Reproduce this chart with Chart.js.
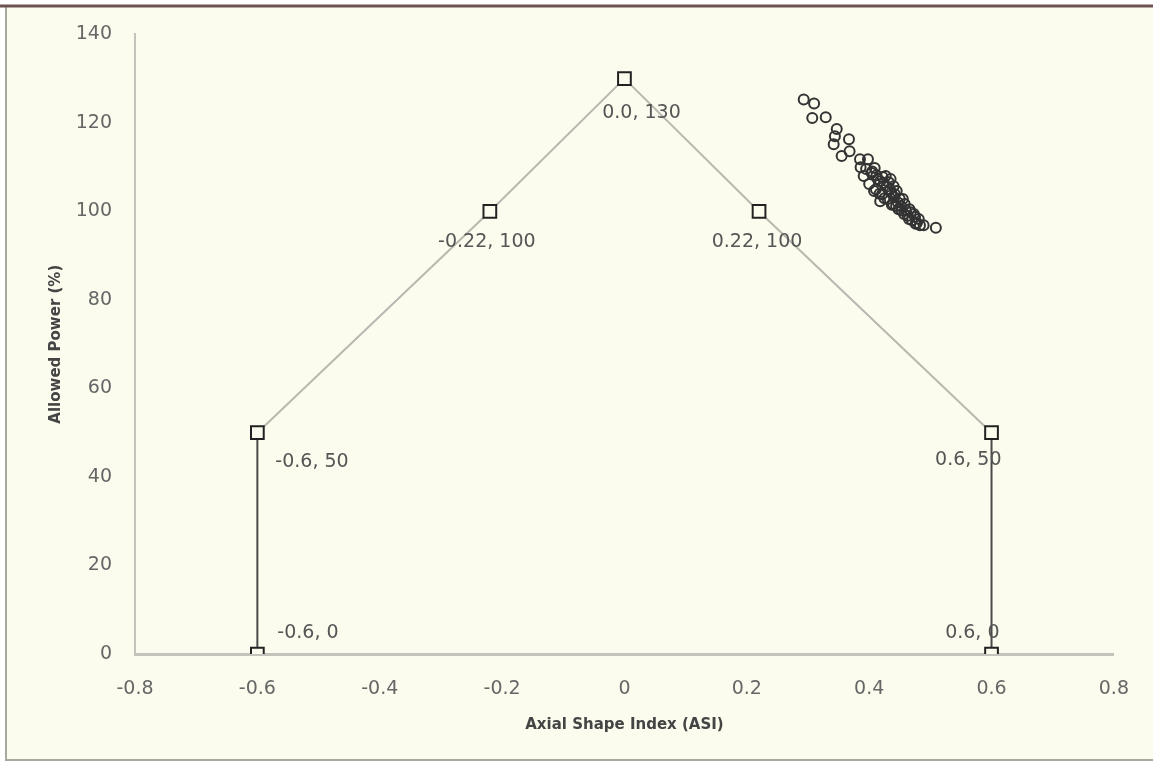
<!DOCTYPE html>
<html>
<head>
<meta charset="utf-8">
<script src="https://cdn.jsdelivr.net/npm/chart.js@4.4.1/dist/chart.umd.min.js"></script>
<style>
	html, body {margin: 0; padding: 0; background: #fff;}
	#wrap {width: 1153px; height: 766px;}
</style>
</head>
<body>
<div id="wrap"><canvas id="chart"></canvas></div>
<script>
'use strict';

//limit envelope (ASI, allowed power)
const limitAsi = [-0.6, -0.6, -0.22, 0.0, 0.22, 0.6, 0.6];
const limitPower = [0, 50, 100, 130, 100, 50, 0];
const limitLabels = ['-0.6, 0', '-0.6, 50', '-0.22, 100', '0.0, 130', '0.22, 100', '0.6, 50', '0.6, 0'];

//measured operating points
const measAsi = [
	0.293, 0.310, 0.307, 0.329, 0.347, 0.344, 0.342, 0.367, 0.355, 0.368,
	0.385, 0.398, 0.386, 0.409, 0.391, 0.404, 0.414, 0.400, 0.424, 0.411,
	0.434, 0.421, 0.442, 0.430, 0.450, 0.439, 0.458, 0.448, 0.466, 0.457,
	0.473, 0.465, 0.481, 0.476, 0.489, 0.509, 0.427, 0.440, 0.408, 0.395,
	0.435, 0.418, 0.405, 0.412, 0.418, 0.422, 0.428, 0.432, 0.436, 0.441,
	0.445, 0.447, 0.452, 0.455, 0.460, 0.463, 0.468, 0.470, 0.475, 0.478,
	0.483, 0.417, 0.425, 0.437, 0.444, 0.453
];
const measPower = [
	125.3, 124.4, 121.1, 121.3, 118.6, 117.0, 115.2, 116.3, 112.5, 113.6,
	111.8, 111.8, 110.0, 109.8, 108.0, 108.7, 107.3, 106.2, 106.4, 105.0,
	105.0, 103.9, 103.9, 102.8, 102.8, 101.7, 101.7, 100.5, 100.5, 99.4,
	99.4, 98.3, 98.3, 97.2, 96.9, 96.3, 108.0, 105.7, 104.6, 109.6,
	107.3, 102.3, 109.0, 108.2, 106.8, 107.8, 105.6, 106.6, 104.2, 103.2,
	104.6, 102.0, 101.2, 102.8, 100.2, 99.0, 99.8, 98.0, 98.8, 97.4,
	96.9, 104.0, 103.0, 101.5, 101.2, 100.2
];

//label placement around each envelope point: [dx, dy, align]
const labelPlace = [
	[20, -21, 'left'], [18, 29, 'left'], [-3, 31, 'center'], [17, 34, 'center'],
	[-2, 31, 'center'], [10, 27, 'right'], [8, -21, 'right']
];

const BG = '#fbfcee';

const plugins = [
	{
		id: 'frame',
		beforeDraw: chart => {
			const {ctx, width, height} = chart;
			ctx.save();
			ctx.fillStyle = '#ffffff';
			ctx.fillRect(0, 0, width, height);
			ctx.fillStyle = BG;
			ctx.fillRect(6, 6, width - 6, height - 12);
			ctx.strokeStyle = '#a8a8a0';
			ctx.lineWidth = 2;
			ctx.beginPath();
			ctx.moveTo(6, 6);
			ctx.lineTo(6, height - 6);
			ctx.lineTo(width, height - 6);
			ctx.stroke();
			ctx.strokeStyle = '#6e5252';
			ctx.lineWidth = 3;
			ctx.beginPath();
			ctx.moveTo(0, 6);
			ctx.lineTo(width, 6);
			ctx.stroke();
			ctx.restore();
		}
	},
	{
		id: 'pointLabels',
		afterDatasetsDraw: chart => {
			const {ctx, scales} = chart;
			ctx.save();
			ctx.font = '19px "DejaVu Sans"';
			ctx.fillStyle = '#555555';
			ctx.textBaseline = 'middle';
			for (let idx = 0; idx < limitLabels.length; ++idx) {
				const [dx, dy, align] = labelPlace[idx];
				ctx.textAlign = align;
				ctx.fillText(limitLabels[idx],
					scales.x.getPixelForValue(limitAsi[idx]) + dx,
					scales.y.getPixelForValue(limitPower[idx]) + dy);
			}
			ctx.restore();
		}
	}
];

const tickFont = {family: 'DejaVu Sans', size: 19};
const titleFont = {family: 'DejaVu Sans', size: 15, weight: 'bold'};

new Chart(document.getElementById('chart'), {
	type: 'scatter',
	data: {
		datasets: [
			{
				label: 'Limit',
				data: limitAsi.map((x, idx) => ({x: x, y: limitPower[idx]})),
				showLine: true,
				borderWidth: 2,
				borderColor: '#b8b8b0',
				segment: {
					borderColor: ctx => (ctx.p0.parsed.x === ctx.p1.parsed.x) ? '#4a4a4a' : '#b8b8b0'
				},
				pointStyle: 'rect',
				pointRadius: 9,
				pointBorderWidth: 2,
				pointBorderColor: '#222222',
				pointBackgroundColor: BG,
				order: 1
			},
			{
				label: 'Measured',
				data: measAsi.map((x, idx) => ({x: x, y: measPower[idx]})),
				showLine: false,
				pointStyle: 'circle',
				pointRadius: 5,
				pointBorderWidth: 2,
				pointBorderColor: '#333333',
				pointBackgroundColor: 'rgba(0,0,0,0)',
				order: 0
			}
		]
	},
	options: {
		responsive: true,
		maintainAspectRatio: false,
		animation: false,
		layout: {
			padding: {left: 0, top: 33, right: 36, bottom: 0}
		},
		plugins: {
			legend: {display: false},
			tooltip: {enabled: false}
		},
		scales: {
			x: {
				type: 'linear',
				min: -0.8,
				max: 0.8,
				afterFit: scale => { scale.height = 112; },
				ticks: {stepSize: 0.2, font: tickFont, color: '#666666', padding: 24},
				grid: {display: false, drawTicks: false},
				border: {display: true, color: '#c4c4bc', width: 3},
				title: {
					display: true,
					text: 'Axial Shape Index (ASI)',
					font: titleFont,
					color: '#444444',
					padding: {top: 0, bottom: 32}
				}
			},
			y: {
				type: 'linear',
				min: 0,
				max: 140,
				afterFit: scale => { scale.width = 135; },
				ticks: {stepSize: 20, font: tickFont, color: '#666666', padding: 23},
				grid: {display: false, drawTicks: false},
				border: {display: true, color: '#c4c4bc', width: 2},
				title: {
					display: true,
					text: 'Allowed Power (%)',
					font: titleFont,
					color: '#444444',
					padding: {top: 47, bottom: 0}
				}
			}
		}
	},
	plugins: plugins
});
</script>
</body>
</html>
